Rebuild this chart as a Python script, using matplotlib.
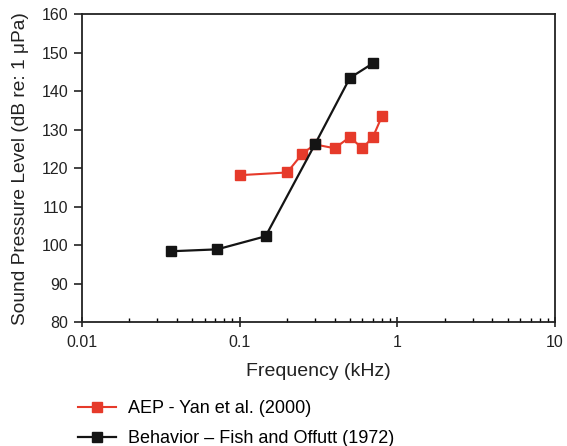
import numpy as np
import matplotlib
matplotlib.use("Agg")
import matplotlib.pyplot as plt
from matplotlib.ticker import LogLocator, NullFormatter

plt.rcParams['font.family'] = ['Liberation Sans', 'DejaVu Sans']

# AEP - Yan et al. (2000)
aep_freq = [0.1, 0.2, 0.25, 0.3, 0.4, 0.5, 0.6, 0.7, 0.8]
aep_spl = [118.2, 118.9, 123.8, 126.2, 125.2, 128.1, 125.2, 128.1, 133.6]

# Behavior - Fish and Offutt (1972)
beh_freq = [0.0365, 0.072, 0.146, 0.3, 0.5, 0.7]
beh_spl = [98.4, 98.9, 102.3, 126.2, 143.5, 147.3]

xticks = [0.01, 0.1, 1, 10]
xticklabels = ["0.01", "0.1", "1", "10"]
yticks = [80, 90, 100, 110, 120, 130, 140, 150, 160]

red = "#e63a2a"
blk = "#141414"

fig = plt.figure(figsize=(5.67, 4.46), dpi=100)
ax = fig.add_axes([82/567, 1-322/446, (555-82)/567, (322-14.5)/446])

ax.plot(aep_freq, aep_spl, color=red, lw=1.5, marker="s", ms=6.5,
        mec=red, mfc=red, label="AEP - Yan et al. (2000)")
ax.plot(beh_freq, beh_spl, color=blk, lw=1.6, marker="s", ms=6.5,
        mec=blk, mfc=blk, label="Behavior \u2013 Fish and Offutt (1972)")

ax.set_xscale("log")
ax.set_xlim(0.01, 10)
ax.set_ylim(80, 160)
ax.set_xticks(xticks)
ax.set_xticklabels(xticklabels)
ax.xaxis.set_minor_locator(LogLocator(base=10, subs=np.arange(2, 10)))
ax.xaxis.set_minor_formatter(NullFormatter())
ax.set_yticks(yticks)

for s in ax.spines.values():
    s.set_linewidth(1.3)
    s.set_color("#222222")

ax.tick_params(axis="x", which="major", direction="inout", length=7,
               width=1.2, labelsize=11.5, colors="#222222", pad=6)
ax.tick_params(axis="y", which="major", direction="out", length=6,
               width=1.2, labelsize=11.5, colors="#222222", pad=4)
ax.tick_params(axis="x", which="minor", direction="in", length=3, width=1.0)

ax.set_xlabel("Frequency (kHz)", fontsize=14, color="#222222", labelpad=9.5)
ax.set_ylabel("Sound Pressure Level (dB re: 1 \u03bcPa)", fontsize=13.8,
              color="#222222", labelpad=9)

fig.legend(loc="upper left", bbox_to_anchor=(78/567, 1-400/446),
           frameon=False, fontsize=13, handlelength=2.1, handletextpad=0.65,
           labelspacing=0.73, borderpad=0, borderaxespad=0)

fig.savefig("out.png", dpi=100)
